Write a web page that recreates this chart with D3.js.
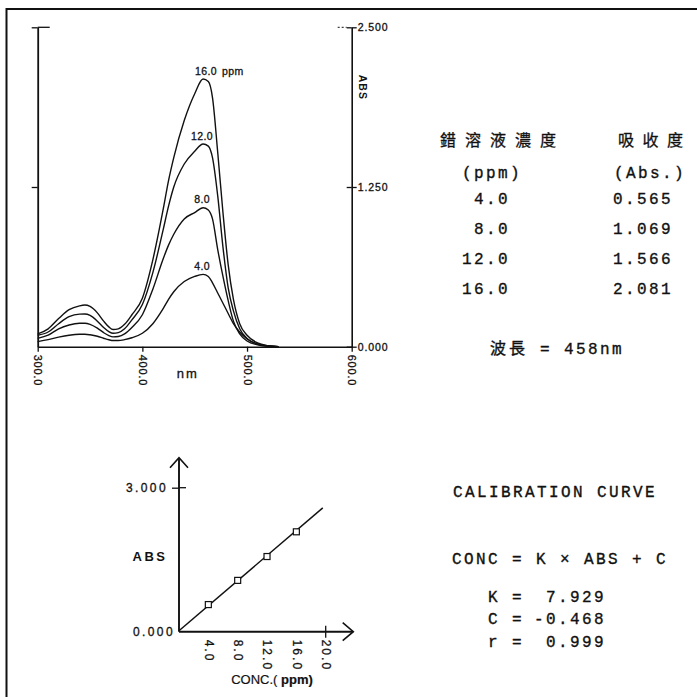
<!DOCTYPE html>
<html><head><meta charset="utf-8">
<script src="https://cdn.jsdelivr.net/npm/d3@7"></script>
<style>body{margin:0;background:#fff}svg{display:block}</style>
</head><body>
<svg id="c" width="697" height="697"></svg>
<script>
// ---------- data ----------
const wavelengths = [300,310,320,330,340,345,350,357,363,368,372,377,383,390,400,410,420,425,430,440,450,458,463,467,472,477,482,487,493,500,510,520,530];
const abs4  = [0.040,0.055,0.075,0.090,0.097,0.097,0.093,0.082,0.066,0.054,0.048,0.048,0.055,0.070,0.105,0.180,0.300,0.370,0.430,0.510,0.550,0.566,0.550,0.500,0.420,0.340,0.260,0.180,0.115,0.060,0.020,0.005,0.000];
const abs8  = [0.065,0.090,0.140,0.170,0.183,0.183,0.175,0.145,0.110,0.087,0.077,0.080,0.100,0.150,0.250,0.450,0.690,0.795,0.880,1.000,1.050,1.088,1.070,1.000,0.760,0.550,0.360,0.200,0.100,0.045,0.015,0.003,0.000];
const abs12 = [0.090,0.115,0.180,0.235,0.255,0.256,0.245,0.200,0.150,0.118,0.105,0.110,0.140,0.210,0.330,0.580,0.920,1.100,1.250,1.430,1.530,1.587,1.570,1.480,1.180,0.780,0.460,0.280,0.140,0.065,0.022,0.005,0.000];
const abs16 = [0.100,0.140,0.220,0.290,0.320,0.326,0.315,0.265,0.200,0.155,0.135,0.140,0.175,0.250,0.380,0.680,1.080,1.300,1.480,1.770,1.980,2.095,2.075,1.950,1.520,1.050,0.640,0.370,0.180,0.090,0.030,0.008,0.000];
const seriesLabels = ["4.0","8.0","12.0","16.0"];
const specXTicks = [300,400,500,600];
const specYTicks = [0,1.25,2.5];

const concValues = [4,8,12,16];
const absValues = [0.565,1.069,1.566,2.081];
const calXTicks = [4,8,12,16,20];
const calYTicks = [0,3];
const fitConc = [0,19.6];
const fitAbs = [0.02,2.58];
const calParams = [["K","7.929"],["C","-0.468"],["r","0.999"]];
const waveLength = 458;

// ---------- drawing ----------
const svg = d3.select('#c');
const ink = '#111';
const mono = '"Liberation Mono", "DejaVu Sans Mono", monospace';
const sans = '"Liberation Sans", Arial, sans-serif';
const cjk = '"Noto Sans CJK TC", "Noto Sans CJK JP", sans-serif';

function heavy(sel, w){ return sel.attr('stroke',ink).attr('stroke-width',w).style('paint-order','stroke'); }

// frame
svg.append('line').attr('x1',6.5).attr('x2',697).attr('y1',9).attr('y2',9).attr('stroke',ink).attr('stroke-width',2);
svg.append('line').attr('x1',6.5).attr('x2',6.5).attr('y1',8).attr('y2',697).attr('stroke',ink).attr('stroke-width',2);

// spectrum chart
const x1 = d3.scaleLinear().domain([300,600]).range([37.7,351.7]);
const y1 = d3.scaleLinear().domain([0,2.5]).range([346.7,27.3]);

const gx1 = svg.append('g').attr('transform',`translate(0,${y1(0)})`)
  .call(d3.axisBottom(x1).tickValues(specXTicks).tickSize(5).tickSizeOuter(0).tickFormat(d3.format('.1f')));
gx1.select('.domain').attr('stroke',ink).attr('stroke-width',1.6);
gx1.selectAll('.tick line').attr('stroke',ink).attr('stroke-width',1.3);
heavy(gx1.selectAll('.tick text').attr('transform','rotate(90)').attr('x',8).attr('y',0).attr('dy','0.35em')
  .style('text-anchor','start').attr('fill',ink).style('font-family',sans).style('font-size','11px').style('letter-spacing','0.8px'),0.3);
heavy(svg.append('text').attr('x',(x1(400)+x1(500))/2-7).attr('y',y1(0)+28).attr('text-anchor','middle').attr('dominant-baseline','middle')
  .attr('fill',ink).style('font-family',sans).style('font-size','13px').style('letter-spacing','2px').text('nm'),0.3);

const gy1 = svg.append('g').attr('transform',`translate(${x1(600)},0)`)
  .call(d3.axisRight(y1).tickValues(specYTicks).tickSize(5).tickSizeOuter(0).tickPadding(1).tickFormat(d3.format('.3f')));
gy1.select('.domain').attr('stroke',ink).attr('stroke-width',1.6);
gy1.selectAll('.tick line').attr('stroke',ink).attr('stroke-width',1.3);
gy1.selectAll('.tick').append('line').attr('x1',-5).attr('x2',0).attr('stroke',ink).attr('stroke-width',1.3);
heavy(gy1.selectAll('.tick text').attr('fill',ink).style('font-family',sans).style('font-size','10.5px').style('letter-spacing','0.9px'),0.3);
svg.append('line').attr('x1',x1(600)-14).attr('x2',x1(600)-5).attr('y1',y1(2.5)).attr('y2',y1(2.5))
  .attr('stroke',ink).attr('stroke-width',1).attr('stroke-dasharray','2,2');
svg.append('text').attr('transform',`translate(${x1(600)+10},${y1(2.5)+60}) rotate(90)`).attr('text-anchor','middle').attr('dominant-baseline','middle')
  .attr('fill',ink).style('font-family',sans).style('font-size','10.5px').style('font-weight','bold').style('letter-spacing','1px').text('ABS');

// left axis
const gl1 = svg.append('g').attr('transform',`translate(${x1(300)},0)`)
  .call(d3.axisLeft(y1).tickValues([1.25,2.5]).tickSize(6).tickSizeOuter(0).tickFormat(''));
gl1.select('.domain').attr('stroke',ink).attr('stroke-width',1.8);
gl1.selectAll('.tick line').attr('stroke',ink).attr('stroke-width',1.3);
svg.append('line').attr('x1',x1(300)).attr('x2',x1(300)+12).attr('y1',y1(2.5)).attr('y2',y1(2.5)).attr('stroke',ink).attr('stroke-width',1.3);

// spectra
const allSeries = [abs4,abs8,abs12,abs16];
const line1 = d3.line().x(d=>x1(d[0])).y(d=>y1(d[1])).curve(d3.curveMonotoneX);
allSeries.forEach((s,i)=>{
  const pts = wavelengths.map((w,j)=>[w,s[j]]);
  svg.append('path').attr('d',line1(pts)).attr('fill','none').attr('stroke',ink).attr('stroke-width',1.4);
  const peak = d3.max(s);
  const t = svg.append('text').attr('x',x1(waveLength)-1).attr('y',y1(peak)-7).attr('text-anchor','middle').attr('dominant-baseline','middle')
    .attr('fill',ink).style('font-family',sans).style('font-size','10.5px').style('letter-spacing','0.4px').text(seriesLabels[i]);
  heavy(t,0.3);
  if(i===3){
    t.attr('x',x1(waveLength)+3);
    const bb = t.node().getBBox();
    heavy(svg.append('text').attr('x',bb.x+bb.width+5).attr('y',y1(peak)-7).attr('dominant-baseline','middle')
      .attr('fill',ink).style('font-family',sans).style('font-size','10.5px').style('letter-spacing','0.4px').text('ppm'),0.3);
  }
});

// ---------- table ----------
function txt(x,y,s,opt={}){
  const t = svg.append('text').attr('x',x).attr('y',y).attr('dominant-baseline','middle').attr('fill',ink)
    .attr('text-anchor',opt.anchor||'start')
    .style('font-family',opt.font||mono).style('font-size',(opt.size||16)+'px')
    .style('letter-spacing',(opt.ls===undefined?2.4:opt.ls)+'px').style('font-weight',opt.weight||'normal').text(s);
  return heavy(t, opt.sw===undefined?0.35:opt.sw);
}
txt(440,141.7,'錯溶液濃度',{font:cjk,size:16,ls:9,sw:0.3});
txt(618,141.7,'吸收度',{font:cjk,size:16,ls:8.5,sw:0.3});
txt(492,173.3,'(ppm)',{anchor:'middle'});
txt(650,173.3,'(Abs.)',{anchor:'middle'});
const rowY = [200,230,260,290];
concValues.forEach((c,i)=>{
  txt(510,rowY[i],d3.format('.1f')(c),{anchor:'end'});
  txt(613,rowY[i],d3.format('.3f')(absValues[i]));
});
const wl = heavy(svg.append('text').attr('x',490).attr('y',350).attr('dominant-baseline','middle').attr('fill',ink),0.35);
wl.append('tspan').style('font-family',cjk).style('font-size','16px').style('letter-spacing','3px').text('波長');
wl.append('tspan').style('font-family',mono).style('font-size','16px').style('letter-spacing','2.4px').text(` = ${waveLength}nm`);

// ---------- calibration text ----------
txt(453,493,'CALIBRATION CURVE');
txt(452,560,'CONC = K × ABS + C');
const paramY = [598,620,643];
calParams.forEach((p,i)=>{
  txt(488,paramY[i],p[0]+' =');
  txt(606,paramY[i],p[1],{anchor:'end'});
});

// ---------- calibration chart ----------
const x2 = d3.scaleLinear().domain([0,20]).range([179,325.7]);
const y2 = d3.scaleLinear().domain([0,3]).range([631.7,487.7]);
const ax = 1.9;
svg.append('line').attr('x1',x2(0)).attr('x2',x2(0)).attr('y1',y2(0)).attr('y2',y2(3)-29.5).attr('stroke',ink).attr('stroke-width',ax);
svg.append('polyline').attr('points',`${x2(0)-9},${y2(3)-20} ${x2(0)},${y2(3)-30} ${x2(0)+9},${y2(3)-20}`).attr('fill','none').attr('stroke',ink).attr('stroke-width',1.6);
svg.append('line').attr('x1',x2(0)).attr('x2',x2(20)+27.5).attr('y1',y2(0)).attr('y2',y2(0)).attr('stroke',ink).attr('stroke-width',ax);
svg.append('polyline').attr('points',`${x2(20)+17},${y2(0)-9} ${x2(20)+27.6},${y2(0)} ${x2(20)+17},${y2(0)+9}`).attr('fill','none').attr('stroke',ink).attr('stroke-width',1.6);

const gx2 = svg.append('g').attr('transform',`translate(0,${y2(0)})`)
  .call(d3.axisBottom(x2).tickValues(calXTicks).tickSize(0).tickFormat(d3.format('.1f')));
gx2.select('.domain').remove();
heavy(gx2.selectAll('.tick text').attr('transform','rotate(90)').attr('x',8).attr('y',0).attr('dy','0.35em')
  .style('text-anchor','start').attr('fill',ink).style('font-family',sans).style('font-size','12px').style('letter-spacing','2px'),0.3);
svg.append('line').attr('x1',x2(20)).attr('x2',x2(20)).attr('y1',y2(0)-6).attr('y2',y2(0)+6).attr('stroke',ink).attr('stroke-width',1.3);

const gy2 = svg.append('g').attr('transform',`translate(${x2(0)},0)`)
  .call(d3.axisLeft(y2).tickValues(calYTicks).tickSize(7).tickPadding(4).tickFormat(d3.format('.3f')));
gy2.select('.domain').remove();
gy2.selectAll('.tick line').attr('stroke',ink).attr('stroke-width',1.3).filter(d=>d===0).remove();
gy2.selectAll('.tick').filter(d=>d===0).select('text').attr('x',-4);
heavy(gy2.selectAll('.tick text').attr('fill',ink).style('font-family',sans).style('font-size','12px').style('letter-spacing','2.4px'),0.3);
svg.append('line').attr('x1',x2(0)).attr('x2',x2(0)+7).attr('y1',y2(3)).attr('y2',y2(3)).attr('stroke',ink).attr('stroke-width',1.3);

svg.append('text').attr('x',150).attr('y',558).attr('text-anchor','middle').attr('dominant-baseline','middle').attr('fill',ink)
  .style('font-family',sans).style('font-size','13px').style('font-weight','bold').style('letter-spacing','2.5px').text('ABS');
const cl = heavy(svg.append('text').attr('x',272).attr('y',681).attr('text-anchor','middle').attr('dominant-baseline','middle').attr('fill',ink)
  .style('font-family',sans).style('font-size','13px'),0.2);
cl.append('tspan').text('CONC.(');
cl.append('tspan').style('font-weight','bold').text(' ppm)');

// fit line and points
const line2 = d3.line().x(d=>x2(d[0])).y(d=>y2(d[1]));
svg.append('path').attr('d',line2(fitConc.map((c,i)=>[c,fitAbs[i]]))).attr('fill','none').attr('stroke',ink).attr('stroke-width',1.5);
svg.selectAll('rect.pt').data(concValues).enter().append('rect').attr('class','pt')
  .attr('x',d=>x2(d)-3).attr('y',(d,i)=>y2(absValues[i])-3).attr('width',6).attr('height',6)
  .attr('fill','#fff').attr('stroke',ink).attr('stroke-width',1.2);
</script>
</body></html>
